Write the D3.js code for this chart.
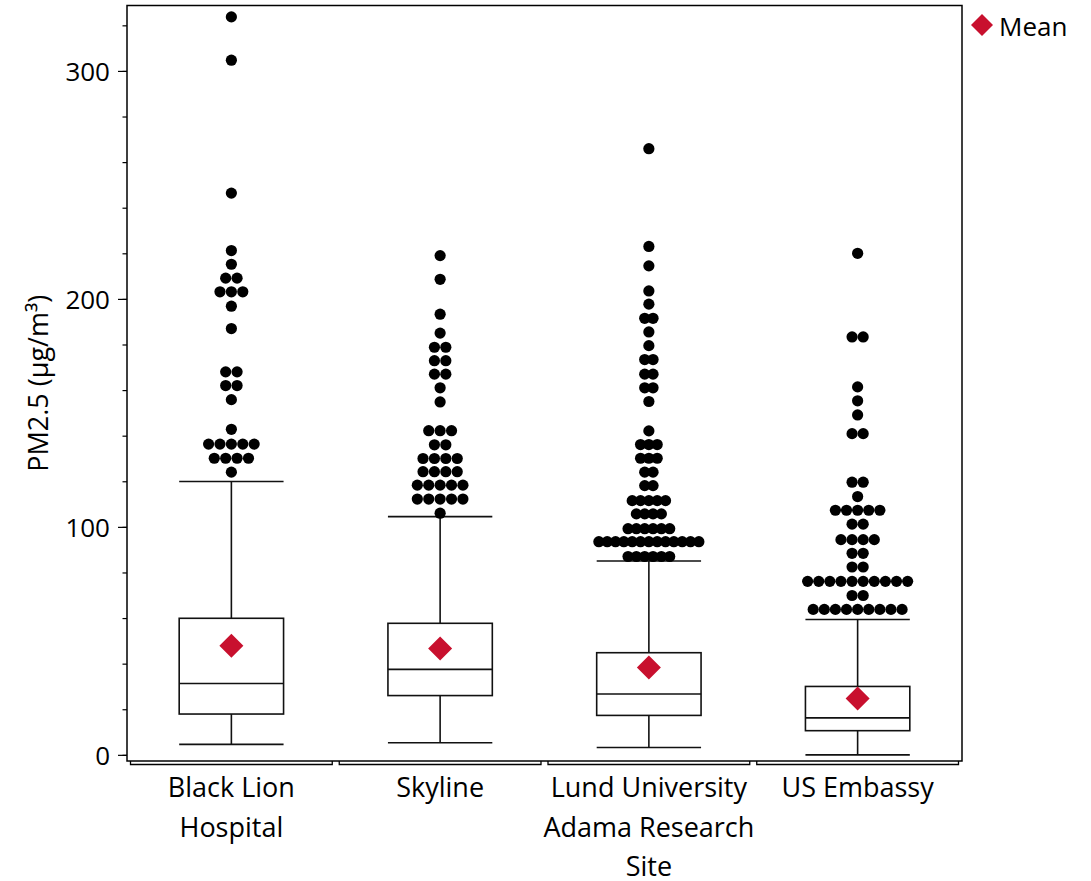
<!DOCTYPE html>
<html lang="en">
<head>
  <meta charset="UTF-8">
  <title>PM2.5 by site</title>
  <script src="https://cdn.jsdelivr.net/npm/d3@7"></script>
  <style>
    body {
      margin: 0;
      background-color: #fff;
    }
    svg text {
      font-family: 'Open Sans', 'Noto Sans', sans-serif;
      fill: #000;
    }
  </style>
</head>
<body>
  <div id="chart"></div>
  <script>
    // sites along the x axis and their wrapped tick labels
    const categories = ["Black Lion Hospital", "Skyline", "Lund University Adama Research Site", "US Embassy"];
    const categoryLabels = [["Black Lion", "Hospital"], ["Skyline"], ["Lund University", "Adama Research", "Site"], ["US Embassy"]];

    // box plot statistics (ug/m3)
    const lowerWhisker = [4.6, 5.3, 3.2, 0.0];
    const q1 = [17.9, 26.0, 17.3, 10.6];
    const median = [31.3, 37.5, 26.7, 16.2];
    const q3 = [59.9, 57.7, 44.8, 30.0];
    const upperWhisker = [119.9, 104.5, 85.0, 59.4];
    const means = [47.8, 46.6, 38.3, 24.7];

    // outliers (same value repeated = dots side by side)
    const outliersBlackLion = [323.7, 304.7, 246.4, 221.2, 215.2, 209.1, 209.1, 203.1, 203.1, 203.1,
      196.8, 187.0, 168.0, 168.0, 162.0, 162.0, 155.8, 142.8,
      136.3, 136.3, 136.3, 136.3, 136.3, 130.1, 130.1, 130.1, 130.1, 124.0];
    const outliersSkyline = [219.0, 208.6, 193.3, 185.0, 178.8, 178.8, 172.9, 172.9, 167.0, 167.0,
      161.0, 154.8, 142.2, 142.2, 142.2, 136.0, 136.0,
      130.0, 130.0, 130.0, 130.0, 124.2, 124.2, 124.2, 124.2,
      118.3, 118.3, 118.3, 118.3, 118.3, 112.2, 112.2, 112.2, 112.2, 112.2, 106.0];
    const outliersLund = [265.9, 223.0, 214.5, 203.5, 197.7, 191.5, 191.5, 185.5, 179.5,
      173.4, 173.4, 167.0, 167.0, 161.0, 161.0, 155.0, 142.1,
      136.1, 136.1, 136.1, 130.1, 130.1, 130.1, 124.0, 124.0, 118.1, 118.1,
      111.5, 111.5, 111.5, 111.5, 111.5, 105.7, 105.7, 105.7, 105.7,
      99.2, 99.2, 99.2, 99.2, 99.2, 99.2,
      93.5, 93.5, 93.5, 93.5, 93.5, 93.5, 93.5, 93.5, 93.5, 93.5, 93.5, 93.5, 93.5,
      87.0, 87.0, 87.0, 87.0, 87.0, 87.0];
    const outliersUSEmbassy = [220.0, 183.3, 183.3, 161.4, 155.3, 149.1, 140.9, 140.9,
      119.6, 119.6, 113.3, 107.3, 107.3, 107.3, 107.3, 107.3, 101.2, 101.2,
      94.4, 94.4, 94.4, 94.4, 88.4, 88.4, 82.4, 82.4,
      76.1, 76.1, 76.1, 76.1, 76.1, 76.1, 76.1, 76.1, 76.1, 76.1, 69.9, 69.9,
      63.8, 63.8, 63.8, 63.8, 63.8, 63.8, 63.8, 63.8, 63.8];
    const outliers = [outliersBlackLion, outliersSkyline, outliersLund, outliersUSEmbassy];

    const yMajorTicks = [0, 100, 200, 300];
    const yLabel = "PM2.5 (\u03bcg/m\u00b3)";
    const legendLabel = "Mean";

    const w = 1091;
    const h = 881;
    const frame = { left: 127, right: 962, top: 5.5, bottom: 761 };
    const red = "#c8102e";

    const svg = d3.select("#chart")
      .append("svg")
      .attr("width", w)
      .attr("height", h);

    const x = d3.scaleBand()
      .domain(categories)
      .range([frame.left, frame.right]);

    const y = d3.scaleLinear()
      .domain([-2.7, 328.7])
      .range([frame.bottom, frame.top]);

    const boxW = x.bandwidth() * 0.5;
    const diamond = (cx, cy, r) => `M${cx},${cy - r}L${cx + r},${cy}L${cx},${cy + r}L${cx - r},${cy}Z`;

    // y axis: minor ticks every 20, labelled ticks every 100
    const yMinor = svg.append("g")
      .attr("transform", `translate(${frame.left},0)`)
      .call(d3.axisLeft(y).tickValues(d3.range(0, 329, 20)).tickSize(4.5).tickFormat(""));
    yMinor.select(".domain").remove();

    const yAxis = svg.append("g")
      .attr("transform", `translate(${frame.left},0)`)
      .call(d3.axisLeft(y).tickValues(yMajorTicks).tickSize(9).tickPadding(8));
    yAxis.select(".domain").remove();
    yAxis.selectAll("text")
      .style("font-size", "26px")
      .attr("dy", "0.36em");
    svg.selectAll(".tick line").attr("stroke", "#000").attr("stroke-width", 1.2);

    svg.append("text")
      .attr("transform", `translate(48,${y(163)}) rotate(-90)`)
      .attr("text-anchor", "middle")
      .style("font-size", "27px")
      .text(yLabel);

    // plot frame
    svg.append("rect")
      .attr("x", frame.left)
      .attr("y", frame.top)
      .attr("width", frame.right - frame.left)
      .attr("height", frame.bottom - frame.top)
      .attr("fill", "none")
      .attr("stroke", "#000")
      .attr("stroke-width", 1.5);

    // category brackets below the frame
    svg.selectAll(".bracket")
      .data(categories)
      .enter()
      .append("path")
      .attr("class", "bracket")
      .attr("d", d => {
        const x0 = x(d) + 3.5, x1 = x(d) + x.bandwidth() - 3.5;
        return `M${x0},${frame.bottom}V${frame.bottom + 3.5}H${x1}V${frame.bottom}`;
      })
      .attr("fill", "none")
      .attr("stroke", "#000")
      .attr("stroke-width", 1.3);

    // x labels
    const xLabels = svg.selectAll(".xlabel")
      .data(categories)
      .enter()
      .append("text")
      .attr("class", "xlabel")
      .attr("text-anchor", "middle")
      .style("font-size", "27px");
    xLabels.selectAll("tspan")
      .data((d, i) => categoryLabels[i].map(line => ({ line, cx: x(d) + x.bandwidth() / 2 })))
      .enter()
      .append("tspan")
      .attr("x", d => d.cx)
      .attr("y", (d, i) => 797 + i * 39.5)
      .text(d => d.line);

    // boxes
    const boxes = svg.selectAll(".box")
      .data(categories)
      .enter()
      .append("g")
      .attr("class", "box")
      .attr("transform", d => `translate(${x(d) + x.bandwidth() / 2},0)`);

    boxes.append("line")
      .attr("x1", 0).attr("x2", 0)
      .attr("y1", (d, i) => y(upperWhisker[i]))
      .attr("y2", (d, i) => y(lowerWhisker[i]));

    boxes.append("line")
      .attr("x1", -boxW / 2).attr("x2", boxW / 2)
      .attr("y1", (d, i) => y(upperWhisker[i]))
      .attr("y2", (d, i) => y(upperWhisker[i]));

    boxes.append("line")
      .attr("x1", -boxW / 2).attr("x2", boxW / 2)
      .attr("y1", (d, i) => y(lowerWhisker[i]))
      .attr("y2", (d, i) => y(lowerWhisker[i]));

    boxes.append("rect")
      .attr("x", -boxW / 2)
      .attr("width", boxW)
      .attr("y", (d, i) => y(q3[i]))
      .attr("height", (d, i) => y(q1[i]) - y(q3[i]))
      .attr("fill", "#fff");

    boxes.append("line")
      .attr("x1", -boxW / 2).attr("x2", boxW / 2)
      .attr("y1", (d, i) => y(median[i]))
      .attr("y2", (d, i) => y(median[i]));

    boxes.selectAll("line, rect")
      .attr("stroke", "#111")
      .attr("stroke-width", 1.6);

    boxes.append("path")
      .attr("d", (d, i) => diamond(0, y(means[i]), 12))
      .attr("fill", red);

    // outliers, dots with the same value sit side by side
    boxes.each(function(d, i) {
      const groups = d3.groups(outliers[i], v => v);
      const maxCount = d3.max(groups, g => g[1].length);
      const step = maxCount > 1 ? Math.min(11.4, 100 / (maxCount - 1)) : 11.4;
      const pts = [];
      groups.forEach(([v, vals]) => {
        vals.forEach((_, k) => pts.push({ v, dx: (k - (vals.length - 1) / 2) * step }));
      });
      d3.select(this).selectAll(".dot")
        .data(pts)
        .enter()
        .append("circle")
        .attr("class", "dot")
        .attr("cx", p => p.dx)
        .attr("cy", p => y(p.v))
        .attr("r", 5.6)
        .attr("fill", "#000");
    });

    // legend
    svg.append("path")
      .attr("d", diamond(982, 25, 11))
      .attr("fill", red);
    svg.append("text")
      .attr("x", 999)
      .attr("y", 36)
      .style("font-size", "26px")
      .text(legendLabel);
  </script>
</body>
</html>
